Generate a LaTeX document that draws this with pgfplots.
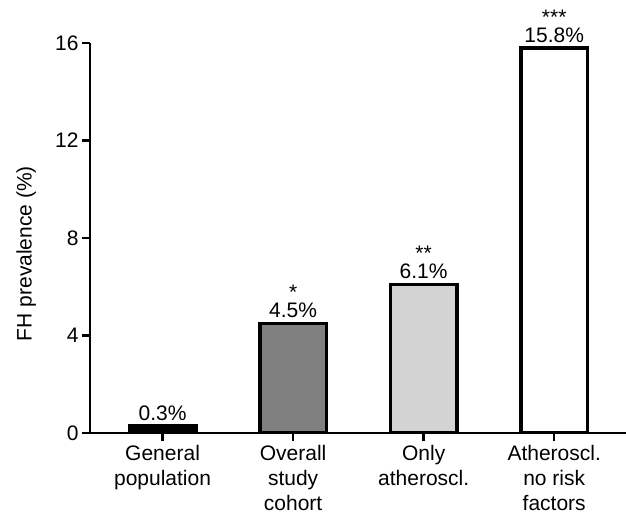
\documentclass[border=0pt]{standalone}
\usepackage{fontspec}
\setmainfont{Liberation Sans}
\usepackage{pgfplots}
\pgfplotsset{compat=1.18}
\definecolor{midgray}{RGB}{128,128,128}
\definecolor{lightgray2}{RGB}{211,211,211}
\begin{document}
\begin{tikzpicture}
\begin{axis}[
  scale only axis,
  width=536pt, height=390pt,
  at={(0,0)}, anchor=south west,
  xmin=-0.556, xmax=3.55,
  ymin=0, ymax=16,
  axis x line=bottom, axis y line=left,
  axis line style={-, line width=2.5pt},
  every tick/.style={black, line width=2.5pt},
  tick align=outside,
  major tick length=8pt,
  ytick={0,4,8,12,16},
  xtick={0,1,2,3},
  xticklabels={General\\population, Overall\\study\\cohort, Only\\atheroscl., Atheroscl.\\no risk\\factors},
  xticklabel style={align=center, anchor=north, yshift=-1pt},
  /pgf/number format/assume math mode=true,
  tick label style={font=\fontsize{21}{25}\selectfont},
  ylabel={FH prevalence (\%)},
  every axis y label/.style={at={(axis description cs:-0.119,0.46)}, rotate=90, anchor=center, font=\fontsize{21}{25}\selectfont},
  ybar, bar width=0.51, bar shift=0pt,
  nodes near coords,
  every node near coord/.append style={font=\fontsize{21}{25}\selectfont, align=center, inner sep=0pt, yshift=3.5pt, black},
]
\addplot[fill=black, draw=black, line width=3.5pt,
  nodes near coords={\pgfmathprintnumber[fixed,precision=1,fixed zerofill]{\pgfplotspointmeta}\%}]
  coordinates {(0,0.3)};
\addplot[fill=midgray, draw=black, line width=3.5pt,
  nodes near coords={*\\[-7pt]\pgfmathprintnumber[fixed,precision=1,fixed zerofill]{\pgfplotspointmeta}\%}]
  coordinates {(1,4.5)};
\addplot[fill=lightgray2, draw=black, line width=3.5pt,
  nodes near coords={**\\[-7pt]\pgfmathprintnumber[fixed,precision=1,fixed zerofill]{\pgfplotspointmeta}\%}]
  coordinates {(2,6.1)};
\addplot[fill=white, draw=black, line width=3.5pt,
  nodes near coords={***\\[-7pt]\pgfmathprintnumber[fixed,precision=1,fixed zerofill]{\pgfplotspointmeta}\%}]
  coordinates {(3,15.8)};
\end{axis}
\pgfresetboundingbox
\path (-90pt,-83pt) rectangle (536pt,433pt);
\end{tikzpicture}
\end{document}
